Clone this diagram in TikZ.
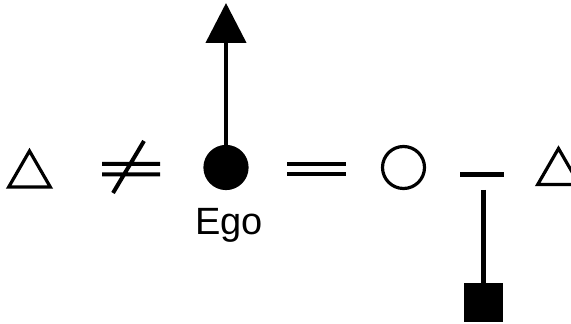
\documentclass[tikz,border=0pt]{standalone}
\usepackage{fontspec}
\setmainfont{Liberation Sans}
\usetikzlibrary{arrows.meta,positioning,shapes.geometric}

\begin{document}
\begin{tikzpicture}[x=0.5pt, y=-0.5pt,
  male/.style={draw, line width=1.6pt, regular polygon, regular polygon sides=3, minimum size=24pt, inner sep=0pt},
  female/.style={draw, line width=1.6pt, circle, minimum size=21pt, inner sep=0pt},
  egobox/.style={female, fill=black},
  son/.style={draw, line width=1.6pt, fill=black, minimum size=18pt, inner sep=0pt},
  bar/.style={fill=black, minimum width=22pt, minimum height=2.5pt, inner sep=0pt},
  sign/.style={line width=2pt},
  link/.style={line width=2.2pt}]
  \useasboundingbox (0,0) rectangle (571,324);
  \clip (0,0) rectangle (571,324);
  \node[male] (m1) at (29.5,175) {};
  \node[egobox] (ego) at (226,167.5) {};
  \node[female] (wife) at (403.5,167.5) {};
  \node[bar] (sib) at (482,175) {};
  \node[male] (m2) at (558.5,172.5) {};
  \node[son] (s) at (483.5,302.5) {};
  \node[below=9pt of ego, xshift=1.5pt, inner sep=0pt, font=\fontsize{19}{22}\selectfont] (egolab) {Ego};
  \coordinate (up) at (226,3);
  \coordinate (drop) at (483.5,190);
  % not married / married
  \draw[sign] (102,164) -- (160,164) (102,174.5) -- (160,174.5) (144,141) -- (113,193);
  \draw[sign] (287,164) -- (346,164) (287,174) -- (346,174);
  \draw[link, -{Triangle[width=20pt,length=20pt]}] (ego) -- (up);
  \draw[link] (drop) -- (s);
\end{tikzpicture}
\end{document}
